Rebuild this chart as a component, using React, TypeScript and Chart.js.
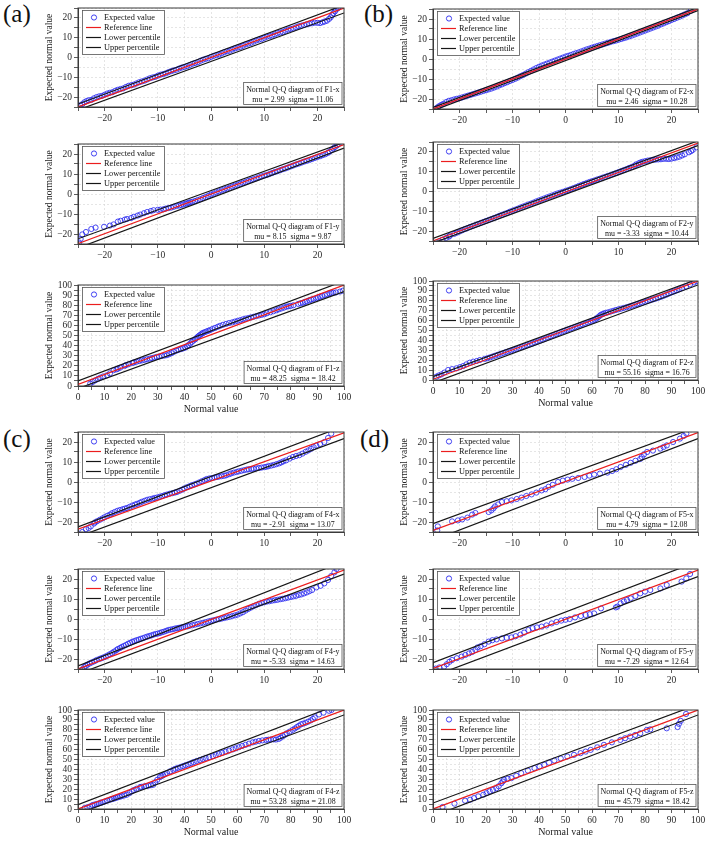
import { useEffect, useRef } from "react"
import { Chart, registerables } from "chart.js"

Chart.register(...registerables)

type Pt = [number, number]

// ---- panel (a): F1 ----
const f1xPoints: Pt[] = [
  [-24.6, -24.2], [-23.8, -22.6], [-23, -21.6], [-22, -20.6], [-21, -19.6], [-20, -18.8], [-19, -17.8],
  [-18, -16.8], [-17, -15.9], [-16, -14.9], [-15, -14.0], [-14, -13.1], [-13, -12.1], [-12, -11.1],
  [-11, -10.1], [-10, -9.2], [-9, -8.4], [-8, -7.4], [-7, -6.5], [-6, -5.6], [-5, -4.8], [-4, -3.8],
  [-3, -2.8], [-2, -1.7], [-1, -0.7], [0, 0.3], [1, 1.2], [2, 2.1], [3, 3.1], [4, 4.0], [5, 5.0],
  [6, 5.9], [7, 7.0], [8, 8.0], [9, 9.0], [10, 9.9], [11, 10.8], [12, 11.7], [13, 12.6], [14, 13.5],
  [15, 14.4], [16, 15.3], [17, 16.1], [18, 16.8], [19, 17.3], [20, 17.5], [21, 17.8], [21.8, 18.6],
  [22.5, 20.3], [23, 22.4], [23.5, 24.2], [24, 25.5],
  [-24.2, -23.6], [-23.4, -22.0], [-22.5, -21.4], [-21.5, -20.0], [-20.5, -19.4], [-19.5, -18.2],
  [-18.5, -17.5], [-17.5, -16.3], [-16.5, -15.6], [-15.5, -14.3], [-14.5, -13.7], [-13.5, -12.5],
  [-12.5, -11.7], [-11.5, -10.5], [-10.5, -9.8], [-9.5, -8.7], [-8.5, -8.0], [-7.5, -6.9], [-6.5, -6.2],
  [-5.5, -5.1], [-4.5, -4.4], [-3.5, -3.2], [-2.5, -2.4], [-1.5, -1.1], [-0.5, -0.4], [0.5, 0.8],
  [1.5, 1.5], [2.5, 2.7], [3.5, 3.4], [4.5, 4.6], [5.5, 5.3], [6.5, 6.6], [7.5, 7.4], [8.5, 8.6],
  [9.5, 9.3], [10.5, 10.5], [11.5, 11.1], [12.5, 12.3], [13.5, 12.9], [14.5, 14.1], [15.5, 14.7],
  [16.5, 15.8], [17.5, 16.4], [18.5, 17.1], [19.5, 17.6], [20.5, 17.4], [21.4, 18.2], [22.2, 19.5],
  [22.8, 21.4], [23.3, 23.3], [23.8, 24.8],
]
const f1xRefLine: Pt[] = [[-25, -25], [25, 25]]
const f1xLower: Pt[] = [[-25, -26.5], [25, 22.5]]
const f1xUpper: Pt[] = [[-25, -23.5], [25, 26.5]]

const f1yPoints: Pt[] = [
  [-24.8, -24.2], [-24.5, -22.5], [-24.2, -20.2], [-23.5, -19.0], [-22.5, -17.5], [-21.7, -16.8],
  [-20.1, -16.4], [-19, -15.8], [-18.3, -15.2], [-17.5, -13.8], [-17, -13.4], [-16.2, -12.8],
  [-15.8, -12.5], [-15, -12.0], [-14.5, -11.4], [-13.8, -10.8], [-13.3, -10.3], [-12.6, -9.6],
  [-12, -9.0], [-11.3, -8.5], [-10.8, -8.1], [-10, -7.9], [-8.9, -7.6], [-8, -7.0], [-7, -6.4],
  [-6, -5.8], [-5.2, -5.2], [-4.5, -4.7], [-3.9, -4.1], [-3, -3.5], [-2, -2.6], [-1, -1.5], [0, -0.3],
  [1, 0.8], [2, 1.8], [3, 2.7], [4, 3.7], [5, 4.6], [6, 5.6], [7, 6.5], [8, 7.4], [9, 8.3], [10, 9.2],
  [11, 10.0], [12, 11.0], [13, 11.9], [14, 12.8], [15, 13.8], [16, 14.8], [17, 15.7], [18, 16.6],
  [19, 17.5], [20, 18.5], [21, 19.4], [22, 20.6], [22.7, 22.0], [23.3, 23.5], [24, 25],
  [-9.5, -7.8], [-8.5, -7.3], [-7.5, -6.8], [-6.5, -6.0], [-5.6, -5.5], [-4.8, -4.9], [-4.2, -4.4],
  [-3.5, -3.9], [-2.5, -3.0], [-1.5, -2.0], [-0.5, -0.9], [0.5, 0.2], [1.5, 1.3], [2.5, 2.3],
  [3.5, 3.1], [4.5, 4.2], [5.5, 5.1], [6.5, 6.0], [7.5, 7.0], [8.5, 7.8], [9.5, 8.8], [10.5, 9.5],
  [11.5, 10.5], [12.5, 11.4], [13.5, 12.4], [14.5, 13.3], [15.5, 14.3], [16.5, 15.2], [17.5, 16.2],
  [18.5, 17.0], [19.5, 18.0], [20.5, 18.9], [21.5, 19.9], [22.3, 21.2], [23, 22.8], [23.7, 24.3],
]
const f1yRefLine: Pt[] = [[-25, -24.8], [25, 24.7]]
const f1yLower: Pt[] = [[-25, -27], [25, 23]]
const f1yUpper: Pt[] = [[-25, -22.4], [25, 25.8]]

const f1zPoints: Pt[] = [
  [4.6, 2.3], [5.5, 4], [6.5, 5.6], [7.5, 7], [8.4, 8.3], [9.5, 9.5], [10.9, 10.6], [12, 12.5],
  [13.4, 15.6], [14.5, 16.5], [15.9, 18.2], [17.5, 19.8], [19, 21.5], [20.5, 22.8], [22, 24],
  [24, 25.3], [25.9, 26.5], [27.8, 27.6], [29.6, 28.8], [31.5, 29.7], [33.4, 30.5], [35.2, 32.5],
  [37, 35], [38.7, 36.5], [40.3, 38], [41.5, 40.5], [42.8, 43.7], [44, 46.2], [45, 48.7], [46, 50.8],
  [47, 52.6], [48.3, 54], [49.6, 55.3], [51.5, 57.5], [53.4, 59.6], [55.7, 61.5], [58, 63], [60, 64.5],
  [62, 66], [64, 67.3], [66, 68.5], [68, 69.8], [70, 71], [72.3, 73], [74.6, 75], [76.5, 76.8],
  [78.4, 78.5], [80, 79.3], [81, 80], [82.8, 81.3], [84.6, 82.5], [86, 83.8], [87, 85], [88.5, 86],
  [89.6, 86.8], [90.9, 88.4], [92.8, 90], [94.6, 91.7], [96, 92.3], [97, 92.7], [98.5, 93.5], [99.6, 94.4],
  [15, 17.2], [18, 20.7], [21, 23.3], [23, 24.7], [25, 25.9], [27, 27.1], [28.7, 28.2], [30.5, 29.2],
  [32.5, 30.1], [34.3, 31.5], [36, 33.8], [37.8, 35.8], [39.5, 37.2], [41, 39.2], [42.2, 42],
  [43.4, 45], [44.5, 47.5], [45.5, 49.8], [46.5, 51.7], [47.6, 53.3], [49, 54.7], [50.5, 56.4],
  [52.5, 58.6], [54.5, 60.6], [56.8, 62.3], [59, 63.8], [61, 65.2], [63, 66.7], [65, 67.9], [67, 69.2],
  [69, 70.4], [71, 72], [73.5, 74], [75.5, 75.9], [77.5, 77.7], [79.2, 79], [83.7, 81.9], [85.3, 83.2],
  [87.7, 85.5], [90.2, 87.6], [91.8, 89.2], [93.7, 90.8], [95.3, 92],
]
const f1zRefLine: Pt[] = [[0, 1.5], [100, 100]]
const f1zLower: Pt[] = [[0, -2.5], [100, 93.5]]
const f1zUpper: Pt[] = [[0, 5], [100, 104]]

// ---- panel (b): F2 ----
const f2xPoints: Pt[] = [
  [-24.5, -24.8], [-23.8, -23.5], [-23, -22.4], [-22, -20.9], [-21, -20.2], [-20, -19.6], [-19, -18.8],
  [-18, -18.0], [-17, -17.2], [-16, -16.4], [-15, -15.6], [-14, -14.8], [-13, -13.8], [-12, -12.7],
  [-11, -11.6], [-10, -10.5], [-9, -9.3], [-8, -8.0], [-7, -6.6], [-6, -5.2], [-5, -3.9], [-4, -2.8],
  [-3, -1.8], [-2, -0.8], [-1, 0.2], [0, 1.2], [1, 2.0], [2, 2.9], [3, 3.8], [4, 4.8], [5, 5.7],
  [6, 6.5], [7, 7.3], [8, 8.1], [9, 8.9], [10, 9.6], [11, 10.4], [12, 11.3], [13, 12.2], [14, 13.2],
  [15, 14.2], [16, 15.2], [17, 16.2], [18, 17.3], [19, 18.4], [20, 19.5], [21, 20.6], [22, 21.7],
  [23, 22.9], [23.6, 24], [24.2, 25.2],
  [-24.1, -24.1], [-23.4, -22.9], [-22.5, -21.5], [-21.5, -20.6], [-20.5, -19.9], [-19.5, -19.2],
  [-18.5, -18.4], [-17.5, -17.6], [-16.5, -16.8], [-15.5, -16.0], [-14.5, -15.2], [-13.5, -14.3],
  [-12.5, -13.2], [-11.5, -12.1], [-10.5, -11.0], [-9.5, -9.9], [-8.5, -8.6], [-7.5, -7.3], [-6.5, -5.9],
  [-5.5, -4.5], [-4.5, -3.3], [-3.5, -2.3], [-2.5, -1.3], [-1.5, -0.3], [-0.5, 0.7], [0.5, 1.6],
  [1.5, 2.5], [2.5, 3.3], [3.5, 4.3], [4.5, 5.2], [5.5, 6.1], [6.5, 6.9], [7.5, 7.7], [8.5, 8.5],
  [9.5, 9.2], [10.5, 10.0], [11.5, 10.8], [12.5, 11.7], [13.5, 12.7], [14.5, 13.7], [15.5, 14.7],
  [16.5, 15.7], [17.5, 16.7], [18.5, 17.8], [19.5, 18.9], [20.5, 20.0], [21.5, 21.1], [22.5, 22.3],
]
const f2xRefLine: Pt[] = [[-25, -25], [25, 25]]
const f2xLower: Pt[] = [[-25, -25.8], [25, 24.2]]
const f2xUpper: Pt[] = [[-25, -24.2], [25, 25.8]]

const f2yPoints: Pt[] = [
  [-23.8, -25.2], [-23.2, -24.3], [-22.5, -23.4], [-21.8, -22.3], [-21, -21.4], [-20, -20.2],
  [-19, -19.0], [-18, -17.9], [-17, -16.9], [-16, -15.9], [-15, -14.9], [-14, -13.9], [-13, -12.9],
  [-12, -11.8], [-11, -10.8], [-10, -9.7], [-9, -8.7], [-8, -7.6], [-7, -6.6], [-6, -5.6], [-5, -4.5],
  [-4, -3.5], [-3, -2.5], [-2, -1.5], [-1, -0.6], [0, 0.3], [1, 1.2], [2, 2.2], [3, 3.3], [4, 4.3],
  [5, 5.2], [6, 6.1], [7, 7.0], [8, 7.9], [9, 8.8], [10, 9.8], [11, 10.8], [12, 11.9], [13, 13.0],
  [13.8, 14.2], [14.5, 15.0], [15.5, 15.6], [16.5, 16.0], [17.5, 16.2], [18.5, 16.5], [19.5, 16.4],
  [20.5, 16.9], [21.5, 17.6], [22.5, 18.8], [23.3, 19.8], [24, 21], [24.7, 22.3],
  [-22, -22.8], [-20.5, -20.8], [-19.5, -19.6], [-18.5, -18.5], [-17.5, -17.4], [-16.5, -16.4],
  [-15.5, -15.4], [-14.5, -14.4], [-13.5, -13.4], [-12.5, -12.3], [-11.5, -11.3], [-10.5, -10.2],
  [-9.5, -9.2], [-8.5, -8.1], [-7.5, -7.1], [-6.5, -6.1], [-5.5, -5.0], [-4.5, -4.0], [-3.5, -3.0],
  [-2.5, -2.0], [-1.5, -1.0], [-0.5, -0.2], [0.5, 0.7], [1.5, 1.7], [2.5, 2.8], [3.5, 3.8], [4.5, 4.8],
  [5.5, 5.6], [6.5, 6.5], [7.5, 7.4], [8.5, 8.3], [9.5, 9.3], [10.5, 10.3], [11.5, 11.3], [12.5, 12.4],
  [13.3, 13.6], [14.1, 14.6], [15, 15.3], [16, 15.8], [17, 16.1], [18, 16.3], [19, 16.5], [20, 16.6],
  [21, 17.2], [22, 18.2], [23.7, 20.4],
]
const f2yRefLine: Pt[] = [[-25, -24.9], [25, 24.5]]
const f2yLower: Pt[] = [[-25, -26], [25, 23.2]]
const f2yUpper: Pt[] = [[-25, -23.7], [25, 25.6]]

const f2zPoints: Pt[] = [
  [1.3, 3.4], [2.2, 4.6], [3.2, 5.7], [4.3, 7.5], [5.7, 10.1], [7.2, 11], [8.9, 11.8], [10.2, 13],
  [11.4, 14.1], [12.6, 15.8], [13.9, 17.5], [15.2, 18.5], [16.5, 19.2], [17.7, 20.2], [19.5, 21.3],
  [21.5, 22.8], [23.5, 24.6], [25.5, 26.4], [27.5, 28.2], [29.5, 29.8], [31.5, 31.4], [33.5, 33.2],
  [35.5, 35], [37.5, 36.8], [39.5, 38.8], [41.5, 40.8], [43.5, 43], [45.5, 45.3], [47.5, 47.5],
  [49.5, 49.6], [51.5, 51.6], [53.5, 53.4], [55.5, 55.2], [57.5, 57], [59.5, 59], [61, 60.8],
  [62.2, 63.2], [63.3, 65.8], [64.5, 67.2], [66, 68.3], [68, 69.9], [70, 71.4], [72, 72.8], [74, 74.2],
  [76, 75.8], [78, 77.4], [80, 79], [82, 80.6], [84, 82.2], [86, 84], [88, 86.1], [90, 88.5],
  [92, 90.6], [94, 92.8], [95.5, 94.5], [97, 96.5], [98.5, 98.5], [99.5, 99.8],
  [20.5, 22], [22.5, 23.7], [24.5, 25.5], [26.5, 27.3], [28.5, 29], [30.5, 30.6], [32.5, 32.3],
  [34.5, 34.1], [36.5, 35.9], [38.5, 37.8], [40.5, 39.8], [42.5, 41.9], [44.5, 44.1], [46.5, 46.4],
  [48.5, 48.6], [50.5, 50.6], [52.5, 52.5], [54.5, 54.3], [56.5, 56.1], [58.5, 58], [60.3, 59.9],
  [61.6, 62], [62.8, 64.5], [63.9, 66.5], [65.2, 67.8], [67, 69.1], [69, 70.7], [71, 72.1], [73, 73.5],
  [75, 75], [77, 76.6], [79, 78.2], [81, 79.8], [83, 81.4], [85, 83.1], [87, 85], [89, 87.3],
  [91, 89.5], [93, 91.7],
]
const f2zRefLine: Pt[] = [[0, 0.7], [100, 100]]
const f2zLower: Pt[] = [[0, -2.9], [100, 96]]
const f2zUpper: Pt[] = [[0, 3.4], [100, 102]]

// ---- panel (c): F4 ----
const f4xPoints: Pt[] = [
  [-24.2, -25], [-23.5, -23.6], [-22.6, -22.2], [-22, -20.8], [-21.4, -19.6], [-20.4, -18.2],
  [-19.5, -16.9], [-18.6, -15.6], [-17.6, -14.4], [-16.6, -13.6], [-15.8, -13.0], [-14.8, -11.8],
  [-13.9, -10.9], [-13, -9.9], [-12, -8.9], [-11, -8.3], [-10.2, -7.8], [-9.2, -7.0], [-8.3, -6.3],
  [-7.3, -5.6], [-6.4, -5.0], [-5.4, -3.8], [-4.5, -2.6], [-3.6, -1.6], [-2.7, -0.8], [-1.7, 0.4],
  [-0.8, 1.5], [0.2, 2.0], [1.1, 2.5], [2, 2.9], [2.9, 3.4], [3.8, 4.3], [4.8, 5.0], [5.7, 5.6],
  [6.7, 6.2], [7.6, 6.5], [8.5, 6.8], [9.5, 7.2], [10.4, 7.6], [11.3, 8.2], [12.3, 8.9], [13.2, 9.8],
  [14.1, 10.8], [14.8, 11.7], [15.4, 12.5], [16, 13], [16.6, 13.4], [17.2, 14.2], [17.8, 15.1],
  [18.8, 16.6], [19.8, 18.2], [20.5, 19], [21.3, 20], [22, 22], [22.6, 24.2],
  [-23, -23], [-21.8, -20.2], [-20.9, -18.9], [-20, -17.6], [-19, -16.3], [-18.1, -15.0], [-17.1, -14.0],
  [-16.2, -13.3], [-15.3, -12.4], [-14.3, -11.3], [-13.4, -10.4], [-12.5, -9.4], [-11.5, -8.6],
  [-10.6, -8.0], [-9.7, -7.4], [-8.7, -6.6], [-7.8, -5.9], [-6.8, -5.3], [-5.9, -4.4], [-5, -3.2],
  [-4, -2.1], [-3.1, -1.2], [-2.2, -0.2], [-1.2, 1.0], [-0.3, 1.8], [0.7, 2.3], [1.5, 2.7], [2.5, 3.1],
  [3.4, 3.9], [4.3, 4.7], [5.2, 5.3], [6.2, 5.9], [7.1, 6.4], [8, 6.6], [9, 7.0], [10, 7.4], [10.8, 7.9],
  [11.8, 8.5], [12.8, 9.3], [13.6, 10.3], [18.3, 15.8], [19.3, 17.4],
]
const f4xRefLine: Pt[] = [[-25, -23.6], [25, 24.6]]
const f4xLower: Pt[] = [[-25, -27.4], [25, 21.7]]
const f4xUpper: Pt[] = [[-25, -22.5], [25, 28]]

const f4yPoints: Pt[] = [
  [-24.2, -25.2], [-23.8, -24.0], [-23.2, -22.8], [-22.4, -21.7], [-21.5, -20.5], [-20.6, -19.6],
  [-19.8, -18.8], [-19, -17.6], [-18.2, -16.3], [-17.5, -15.0], [-16.8, -14.0], [-16, -13.0],
  [-15.2, -11.9], [-14.4, -11.0], [-13.6, -10.3], [-12.8, -9.6], [-12, -8.8], [-11.2, -8.2],
  [-10.4, -7.5], [-9.6, -7.0], [-8.8, -6.3], [-8, -5.5], [-7.2, -5.1], [-6.4, -4.6], [-5.6, -4.2],
  [-4.8, -3.8], [-4, -3.4], [-3, -2.8], [-2, -2.2], [-1, -1.6], [0, -0.9], [1, -0.3], [2, 0.2],
  [3, 0.8], [4, 1.5], [5, 2.2], [6, 3.4], [7, 5.0], [8, 6.4], [9, 7.6], [10, 8.4], [11, 8.9],
  [12, 9.4], [13, 9.9], [14, 10.4], [15, 11.0], [16, 11.6], [17, 12.3], [18, 13.3], [19, 14.5],
  [19.8, 15.8], [20.6, 16.6], [21.3, 17.8], [22, 19.5], [22.6, 21.5], [23.2, 23.3], [23.6, 25],
  [-23.5, -23.4], [-22.8, -22.2], [-21.9, -21.1], [-21, -20.0], [-20.2, -19.2], [-19.4, -18.2],
  [-18.6, -17.0], [-17.8, -15.6], [-17.1, -14.5], [-16.4, -13.5], [-15.6, -12.4], [-14.8, -11.4],
  [-14, -10.6], [-13.2, -9.9], [-12.4, -9.2], [-11.6, -8.5], [-10.8, -7.8], [-10, -7.3], [-9.2, -6.6],
  [-8.4, -5.9], [-7.6, -5.3], [-6.8, -4.8], [-6, -4.4], [-5.2, -4.0], [-4.4, -3.6], [-3.5, -3.1],
  [-2.5, -2.5], [-1.5, -1.9], [-0.5, -1.2], [0.5, -0.6], [1.5, -0.1], [2.5, 0.5], [3.5, 1.1],
  [4.5, 1.8], [5.5, 2.8], [6.5, 4.2], [7.5, 5.7], [8.5, 7.0], [9.5, 8.0], [10.5, 8.7], [11.5, 9.2],
  [12.5, 9.6], [13.5, 10.1], [14.5, 10.7], [15.5, 11.3], [16.5, 12.0], [17.5, 12.8], [18.5, 13.9],
]
const f4yRefLine: Pt[] = [[-25, -25], [25, 24.5]]
const f4yLower: Pt[] = [[-25, -27.5], [25, 22.5]]
const f4yUpper: Pt[] = [[-25, -23.5], [25, 28.8]]

const f4zPoints: Pt[] = [
  [2.5, 1.0], [4.6, 2.7], [5.5, 4.0], [7, 5], [8.5, 6.2], [10, 7.5], [12.1, 9.4], [13.5, 10.5],
  [15, 11.8], [16.5, 13], [18.3, 14.4], [19.3, 16], [20.2, 17.8], [21, 19.2], [22, 20.5], [23.3, 22],
  [24.8, 22.8], [26.5, 23.6], [28.3, 24.5], [29, 27], [29.8, 29.5], [30.8, 32.2], [32, 34],
  [33.5, 36.3], [35.8, 39.6], [37.5, 41.5], [39.5, 43.3], [41.5, 45.2], [43.5, 47.4], [45.8, 49.5],
  [48, 51.5], [50.7, 53.3], [53, 55.5], [55.5, 57.8], [58.2, 60.2], [60.5, 62.4], [63, 64.8],
  [65.7, 67.3], [68, 68.7], [70.7, 69.8], [72.5, 70.2], [74.4, 70.2], [75.5, 70.8], [77, 73.5],
  [78.5, 76.5], [80.7, 79.9], [82.3, 82.7], [83.8, 85.5], [85.5, 87], [87.5, 89.5], [89, 92.5],
  [90.6, 95.5], [92.3, 97.3], [94.4, 99.2], [95.3, 100],
  [3.5, 1.8], [6.2, 4.5], [7.8, 5.6], [9.2, 6.8], [11, 8.4], [12.8, 10], [14.2, 11.1], [15.8, 12.4],
  [17.4, 13.7], [23.8, 22.4], [25.6, 23.2], [27.4, 24], [31.4, 33.2], [32.7, 35.2], [34.6, 38],
  [36.6, 40.6], [38.5, 42.4], [40.5, 44.3], [42.5, 46.3], [44.6, 48.5], [46.9, 50.5], [49.3, 52.4],
  [51.8, 54.4], [54.2, 56.6], [56.8, 59], [59.3, 61.3], [61.7, 63.6], [64.3, 66], [66.8, 68],
  [69.3, 69.3], [71.6, 70], [73.5, 70.3], [76.2, 72], [77.8, 75], [79.6, 78.2], [81.5, 81.3], [83, 84],
  [84.6, 86.2], [86.5, 88.2], [88.3, 91],
]
const f4zRefLine: Pt[] = [[0, 0], [100, 100]]
const f4zLower: Pt[] = [[0, -4.8], [100, 95]]
const f4zUpper: Pt[] = [[0, 4.4], [100, 107.7]]

// ---- panel (d): F5 ----
const f5xPoints: Pt[] = [
  [-24.2, -24.2], [-24.1, -22.2], [-21.4, -19.7], [-20.3, -19.2], [-19.5, -18.7], [-18.5, -17.8],
  [-17.6, -16.3], [-17, -15.5], [-14.5, -15.0], [-14, -14.2], [-13.6, -13.2], [-13.3, -12.2],
  [-12.7, -11.2], [-12, -10.0], [-11.1, -9.6], [-10.2, -9.2], [-9.2, -8.5], [-8.3, -7.8], [-7.4, -7.0],
  [-6.4, -6.2], [-5.5, -5.3], [-4.5, -4.2], [-3.8, -3.6], [-3.2, -2.4], [-2.4, -1.4], [-1.4, 0.0],
  [-0.5, 0.7], [0.4, 1.2], [1.3, 1.6], [2.4, 2.0], [3.6, 2.5], [4.5, 3.2], [5.4, 3.7], [6.5, 4.2],
  [7.9, 4.7], [8.8, 5.5], [9.6, 6.4], [10.4, 7.5], [11.4, 8.6], [12.3, 9.6], [13.2, 10.6], [14.1, 11.5],
  [14.4, 12.5], [14.8, 13.8], [15.4, 15.0], [16.5, 15.7], [17.9, 16.7], [18.5, 17.5], [19.1, 18.3],
  [20.3, 20], [21.6, 21.7], [22.3, 23], [22.8, 24.2],
]
const f5xRefLine: Pt[] = [[-25, -24.2], [25, 24.7]]
const f5xLower: Pt[] = [[-25, -29.1], [25, 21.7]]
const f5xUpper: Pt[] = [[-25, -20.8], [25, 27.7]]

const f5yPoints: Pt[] = [
  [-24.5, -24.8], [-23.8, -24.2], [-22.9, -23.8], [-22.4, -22.6], [-21.9, -21.4], [-21.4, -20.5],
  [-20.5, -19.6], [-19.6, -18.8], [-18.9, -18.0], [-18.2, -17.2], [-17.6, -16.5], [-17, -15.5],
  [-16.6, -14.2], [-16, -13.6], [-15.3, -12.6], [-14.5, -11.3], [-13.8, -10.6], [-13, -10.2],
  [-12, -9.7], [-11.1, -9.4], [-10.2, -9.2], [-9.4, -8.6], [-8.5, -7.8], [-7.8, -6.8], [-7, -5.5],
  [-6.2, -4.6], [-5.4, -4.2], [-4.5, -3.8], [-3.6, -3.2], [-2.6, -2.2], [-1.7, -1.5], [-0.8, -0.8],
  [0, -0.4], [0.8, 0.0], [1.8, 0.8], [2.9, 1.5], [3.8, 2.0], [4.6, 2.4], [5.4, 2.8], [6.7, 5.3],
  [9.5, 5.8], [9.8, 6.2], [10.4, 7.8], [11, 8.8], [11.6, 9.5], [12.3, 10.3], [13.2, 11.5], [14.1, 12.8],
  [15, 13.7], [16, 14.5], [17.9, 15.3], [19.1, 17.0], [21.9, 18.7], [22.8, 20.3], [23.5, 22.5],
]
const f5yRefLine: Pt[] = [[-25, -24.7], [25, 24.5]]
const f5yLower: Pt[] = [[-25, -28.6], [25, 21.2]]
const f5yUpper: Pt[] = [[-25, -21.8], [25, 28.8]]

const f5zPoints: Pt[] = [
  [3.6, 2], [8.1, 5.4], [12.1, 8.4], [14, 9.4], [15.5, 11], [17.1, 12.8], [19, 14.4], [20.2, 16],
  [21.4, 17.8], [22.6, 19.2], [23.9, 21], [24.8, 23], [25.8, 26], [26.3, 27.8], [26.8, 29.5],
  [28.2, 30.4], [29.6, 31.2], [31.4, 33.6], [33.3, 36.2], [35.8, 38.8], [38.3, 41.3], [40.2, 43],
  [42, 44.6], [43.8, 46.8], [45.8, 49], [48.2, 51], [50.7, 53], [53.2, 54.7], [55.7, 56.4], [57.6, 58],
  [59.5, 59.7], [62, 62.3], [64.5, 64.8], [67.5, 67.3], [70.7, 69.8], [72.5, 71.5], [74.4, 73.2],
  [76.3, 74.8], [78.2, 76.5], [80.7, 79.9], [82, 80.5], [88.2, 81.5], [92.3, 82.8], [92.8, 86],
  [93.5, 89], [95.5, 96],
]
const f5zRefLine: Pt[] = [[0, 0], [100, 100]]
const f5zLower: Pt[] = [[0, -7.2], [100, 95]]
const f5zUpper: Pt[] = [[0, 6], [100, 105.6]]

// names and fitted statistics shown in each box
const plotNames = ["F1-x", "F1-y", "F1-z", "F2-x", "F2-y", "F2-z", "F4-x", "F4-y", "F4-z", "F5-x", "F5-y", "F5-z"]
const muValues = ["2.99", "8.15", "48.25", "2.46", "-3.33", "55.16", "-2.91", "-5.33", "53.28", "4.79", "-7.29", "45.79"]
const sigmaValues = ["11.06", "9.87", "18.42", "10.28", "10.44", "16.76", "13.07", "14.63", "21.08", "12.08", "12.64", "18.42"]
const legendLabels = ["Expected value", "Reference line", "Lower percentile", "Upper percentile"]
const panelLabels = ["(a)", "(b)", "(c)", "(d)"]

const series = [
  [f1xPoints, f1xRefLine, f1xLower, f1xUpper],
  [f1yPoints, f1yRefLine, f1yLower, f1yUpper],
  [f1zPoints, f1zRefLine, f1zLower, f1zUpper],
  [f2xPoints, f2xRefLine, f2xLower, f2xUpper],
  [f2yPoints, f2yRefLine, f2yLower, f2yUpper],
  [f2zPoints, f2zRefLine, f2zLower, f2zUpper],
  [f4xPoints, f4xRefLine, f4xLower, f4xUpper],
  [f4yPoints, f4yRefLine, f4yLower, f4yUpper],
  [f4zPoints, f4zRefLine, f4zLower, f4zUpper],
  [f5xPoints, f5xRefLine, f5xLower, f5xUpper],
  [f5yPoints, f5yRefLine, f5yLower, f5yUpper],
  [f5zPoints, f5zRefLine, f5zLower, f5zUpper],
]

// plot-area boxes [left, top, width, height] in page pixels
const plotBoxes = [
  [78, 8, 266, 99], [78, 144, 266, 100], [78, 285, 266, 101],
  [433, 9, 265, 100], [433, 142, 265, 99], [433, 281, 265, 99],
  [78, 432, 266, 100], [78, 569, 266, 100], [78, 710, 266, 99],
  [433, 432, 265, 100], [433, 569, 265, 100], [433, 710, 265, 99],
]
const panelLabelPos = [[3, 0], [364, 0], [3, 425], [360, 425]]

const SERIF = '"Liberation Serif", "Times New Roman", serif'
const BLUE = "rgb(45, 45, 240)"
const RED = "rgb(235, 30, 30)"
const BLACK = "#161616"
const PAD_LEFT = 40
const PAD_TOP = 8
const PAD_RIGHT = 10
const X_AXIS_H = 30

const qqBoxes = {
  id: "qqBoxes",
  afterDatasetsDraw(chart: any, _args: any, opts: any) {
    const { ctx, chartArea: a } = chart
    ctx.save()
    // legend
    const lx = a.left + 4
    const ly = a.top + 2
    const lw = 82
    const lh = 44
    ctx.fillStyle = "#fff"
    ctx.fillRect(lx, ly, lw, lh)
    ctx.strokeStyle = "#555"
    ctx.lineWidth = 0.8
    ctx.strokeRect(lx + 0.5, ly + 0.5, lw, lh)
    ctx.font = `8.3px ${SERIF}`
    ctx.textBaseline = "middle"
    ctx.textAlign = "left"
    chart.data.datasets.forEach((ds: any, i: number) => {
      const cy = ly + 7.5 + i * 10
      ctx.strokeStyle = ds.borderColor
      if (!ds.showLine) {
        ctx.lineWidth = 0.9
        ctx.beginPath()
        ctx.arc(lx + 12, cy, 2.6, 0, Math.PI * 2)
        ctx.stroke()
      } else {
        ctx.lineWidth = 1.2
        ctx.beginPath()
        ctx.moveTo(lx + 4, cy)
        ctx.lineTo(lx + 19, cy)
        ctx.stroke()
      }
      ctx.fillStyle = "#111"
      ctx.fillText(ds.label, lx + 22, cy + 0.5)
    })
    // statistics box
    ctx.font = `7.9px ${SERIF}`
    const w = Math.max(ctx.measureText(opts.title).width, ctx.measureText(opts.stats).width) + 5
    const h = 22
    const bx = a.right - 2.5 - w
    const by = a.bottom - 3 - h
    ctx.fillStyle = "#fff"
    ctx.fillRect(bx, by, w, h)
    ctx.strokeStyle = "#555"
    ctx.lineWidth = 0.8
    ctx.strokeRect(bx + 0.5, by + 0.5, w, h)
    ctx.fillStyle = "#111"
    ctx.textAlign = "center"
    ctx.fillText(opts.title, bx + w / 2 + 0.5, by + 7.5)
    ctx.fillText(opts.stats, bx + w / 2 + 0.5, by + 17.5)
    ctx.restore()
  },
  afterDraw(chart: any) {
    const { ctx, chartArea: a } = chart
    ctx.save()
    ctx.strokeStyle = "#3a3a3a"
    ctx.lineWidth = 1
    ctx.strokeRect(a.left, a.top, a.right - a.left, a.bottom - a.top)
    ctx.restore()
  },
}

const fmtTick = (v: any) => {
  const n = Number(v)
  if (Math.abs(n % 10) > 1e-9) return ""
  return n < 0 ? "\u2212" + Math.abs(n) : String(n)
}

function QQPlot({ index }: { index: number }) {
  const chartRef = useRef<HTMLCanvasElement>(null)
  const chartInstance = useRef<Chart | null>(null)
  const [left, top, width, height] = plotBoxes[index]
  const isZ = index % 3 === 2

  useEffect(() => {
    if (!chartRef.current) return
    if (chartInstance.current) chartInstance.current.destroy()
    const ctx = chartRef.current.getContext("2d")
    if (!ctx) return

    const min = isZ ? 0 : -25
    const max = isZ ? 100 : 25
    const toXY = (arr: Pt[]) => arr.map(([x, y]) => ({ x, y }))
    const [pts, refLine, lower, upper] = series[index]

    const axis = (isX: boolean) => ({
      type: "linear" as const,
      min,
      max,
      afterFit: (scale: any) => {
        if (isX) scale.height = X_AXIS_H
        else scale.width = PAD_LEFT
      },
      ticks: {
        stepSize: 5,
        autoSkip: false,
        maxRotation: 0,
        minRotation: 0,
        padding: 2,
        color: "#2a2a2a",
        font: { family: SERIF, size: 9.5 },
        callback: fmtTick,
      },
      grid: {
        color: "#d4d4d4",
        lineWidth: 0.6,
        drawTicks: true,
        tickLength: 4,
        tickColor: "#333",
        tickWidth: 0.8,
        tickBorderDash: [],
      },
      border: { display: true, color: "#3a3a3a", width: 1, dash: [2, 2] },
      title: isX
        ? {
            display: index % 3 === 2,
            text: "Normal value",
            color: "#222",
            font: { family: SERIF, size: 10 },
            padding: { top: 0, bottom: 1 },
          }
        : {
            display: true,
            text: "Expected normal value",
            color: "#222",
            font: { family: SERIF, size: 9.5 },
            padding: { top: 6, bottom: 0 },
          },
    })

    const lineSet = (label: string, data: Pt[], color: string) => ({
      label,
      data: toXY(data),
      showLine: true,
      pointRadius: 0,
      borderColor: color,
      borderWidth: 1.2,
      clip: 0,
      order: 1,
    })

    chartInstance.current = new Chart(ctx, {
      type: "scatter",
      data: {
        datasets: [
          {
            label: legendLabels[0],
            data: toXY(pts),
            showLine: false,
            pointRadius: 2.6,
            pointBorderWidth: 0.85,
            pointBorderColor: BLUE,
            pointBackgroundColor: "rgba(0,0,0,0)",
            borderColor: BLUE,
            backgroundColor: "rgba(0,0,0,0)",
            clip: 0,
            order: 2,
          },
          lineSet(legendLabels[1], refLine, RED),
          lineSet(legendLabels[2], lower, BLACK),
          lineSet(legendLabels[3], upper, BLACK),
        ],
      },
      options: {
        animation: false,
        responsive: true,
        maintainAspectRatio: false,
        events: [],
        layout: { padding: { left: 0, top: PAD_TOP, right: PAD_RIGHT, bottom: 0 } },
        plugins: {
          legend: { display: false },
          tooltip: { enabled: false },
          qqBoxes: {
            title: `Normal Q-Q diagram of ${plotNames[index]}`,
            stats: `mu = ${muValues[index]}  sigma = ${sigmaValues[index]}`,
          },
        } as any,
        scales: {
          x: axis(true) as any,
          y: axis(false) as any,
        },
      },
      plugins: [qqBoxes],
    })

    return () => {
      if (chartInstance.current) {
        chartInstance.current.destroy()
        chartInstance.current = null
      }
    }
  }, [index])

  return (
    <div
      style={{
        position: "absolute",
        left: left - PAD_LEFT,
        top: top - PAD_TOP,
        width: width + PAD_LEFT + PAD_RIGHT,
        height: height + PAD_TOP + X_AXIS_H,
      }}
    >
      <canvas ref={chartRef} />
    </div>
  )
}

export default function App() {
  return (
    <div
      style={{
        position: "absolute",
        left: 0,
        top: 0,
        width: 708,
        height: 842,
        background: "#fff",
        overflow: "hidden",
        fontFamily: SERIF,
      }}
    >
      {panelLabels.map((lab, i) => (
        <div
          key={lab}
          style={{
            position: "absolute",
            left: panelLabelPos[i][0],
            top: panelLabelPos[i][1],
            fontSize: 25,
            lineHeight: "28px",
            color: "#111",
          }}
        >
          {lab}
        </div>
      ))}
      {plotBoxes.map((_, i) => (
        <QQPlot key={i} index={i} />
      ))}
    </div>
  )
}
